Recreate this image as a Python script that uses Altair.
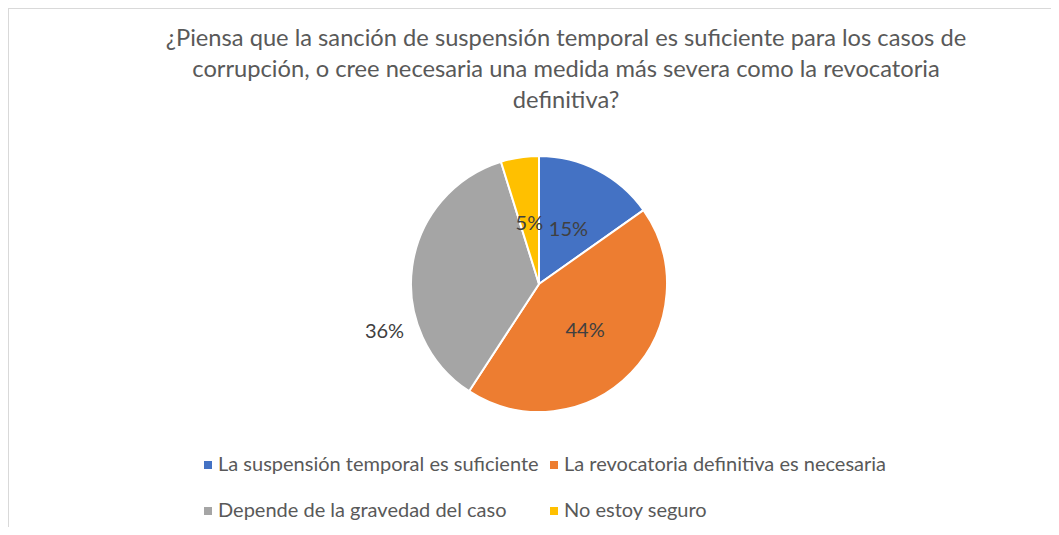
import altair as alt
import pandas as pd

# ---- data ----
categories = [
    "La suspensión temporal es suficiente",
    "La revocatoria definitiva es necesaria",
    "Depende de la gravedad del caso",
    "No estoy seguro",
]
counts = [19, 55, 45, 6]
colors = ["#4472C4", "#ED7D31", "#A5A5A5", "#FFC000"]
title_lines = [
    "¿Piensa que la sanción de suspensión temporal es suficiente para los casos de",
    "corrupción, o cree necesaria una medida más severa como la revocatoria",
    "definitiva?",
]
outside_category = "Depende de la gravedad del caso"

df = pd.DataFrame({"categoria": categories, "n": counts, "orden": list(range(len(categories)))})

# ---- layout (page coords -> view coords) ----
OX, OY = 10, 10
W, H = 1041, 517
FONT = "Lato"
TXT = "#595959"
LBL = "#404040"

def px(v):
    return v - OX

def py(v):
    return v - OY

CX, CY, R = px(539), py(284), 128

base = (
    alt.Chart(df)
    .transform_joinaggregate(total="sum(n)")
    .transform_calculate(
        pct="round(100 * datum.n / datum.total) + '%'",
    )
    .transform_calculate(
        lab_in=f"datum.categoria == '{outside_category}' ? '' : datum.pct",
        lab_out=f"datum.categoria == '{outside_category}' ? datum.pct : ''",
    )
)

theta = alt.Theta("n:Q", stack=True)
order = alt.Order("orden:Q")

pie = base.mark_arc(stroke="white", strokeWidth=2).encode(
    theta=theta,
    order=order,
    color=alt.Color(
        "categoria:N",
        scale=alt.Scale(domain=categories, range=colors),
        sort=categories,
        legend=alt.Legend(
            title=None,
            orient="none",
            legendX=px(198),
            legendY=py(455),
            columns=2,
            direction="horizontal",
            symbolType="square",
            symbolSize=64,
            symbolStrokeWidth=0,
            labelFont=FONT,
            labelFontSize=20,
            labelColor=TXT,
            labelOffset=0,
            columnPadding=5,
            rowPadding=26,
            padding=0,
            labelLimit=500,
        ),
    ),
    x=alt.value(CX),
    y=alt.value(CY),
    radius=alt.value(R),
)

labels_in = base.mark_text(font=FONT, fontSize=20, color=LBL, dy=3).encode(
    theta=theta,
    order=order,
    text="lab_in:N",
    x=alt.value(CX),
    y=alt.value(CY),
    radius=alt.value(64),
)

labels_out = base.mark_text(font=FONT, fontSize=20, color=LBL, dy=69).encode(
    theta=theta,
    order=order,
    text="lab_out:N",
    x=alt.value(CX),
    y=alt.value(CY),
    radius=alt.value(156),
)

dummy = alt.Chart(pd.DataFrame({"k": [0]}))

title = dummy.mark_text(
    font=FONT, fontSize=23.7, color=TXT, align="center", baseline="alphabetic", lineHeight=31
).encode(x=alt.value(px(566)), y=alt.value(py(46)), text=alt.value(title_lines))

border_top = dummy.mark_rule(color="#D9D9D9", strokeWidth=2).encode(
    x=alt.value(px(8)), x2=alt.value(W + 10), y=alt.value(py(8))
)
border_left = dummy.mark_rule(color="#D9D9D9", strokeWidth=2).encode(
    x=alt.value(px(8)), y=alt.value(py(8)), y2=alt.value(H + 10)
)

chart = (
    alt.layer(border_top, border_left, title, pie, labels_in, labels_out)
    .properties(
        width=W,
        height=H,
        autosize=alt.AutoSizeParams(type="none"),
        padding={"left": 2, "top": 2, "right": 0, "bottom": 0},
        background="white",
    )
    .configure_view(stroke=None)
)

chart.save("out.html", embed_options={"renderer": "svg", "actions": False})
